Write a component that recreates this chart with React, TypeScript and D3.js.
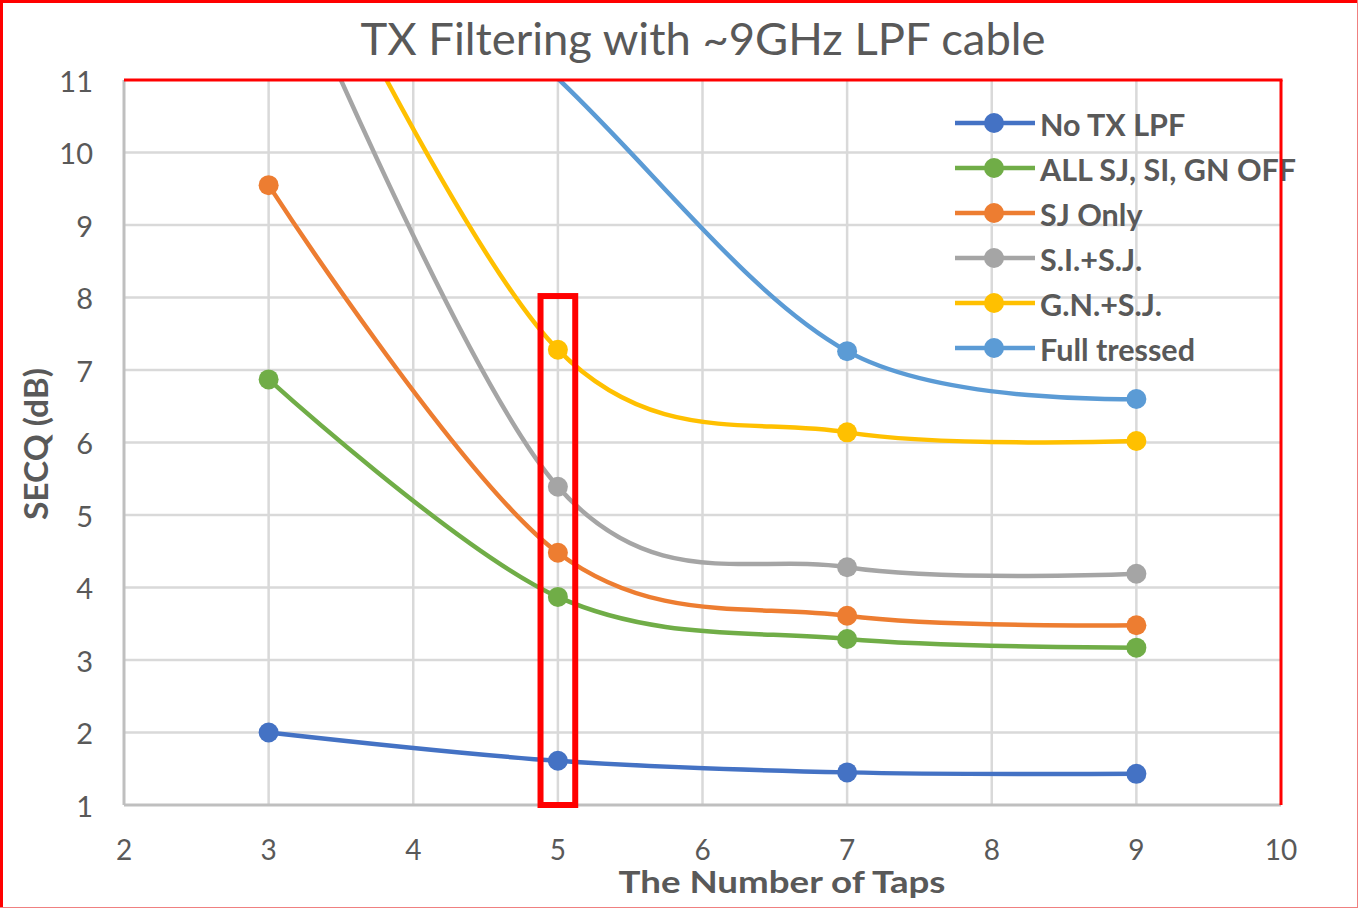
import React from 'react';
import * as d3 from 'd3';

const taps = [3, 5, 7, 9];
const seriesNames = ['No TX LPF', 'ALL SJ, SI, GN OFF', 'SJ Only', 'S.I.+S.J.', 'G.N.+S.J.', 'Full tressed'];
const noTxLpf = [2.0, 1.61, 1.45, 1.43];
const allOff = [6.87, 3.87, 3.29, 3.17];
const sjOnly = [9.55, 4.48, 3.61, 3.48];
const siSj = [13.3, 5.39, 4.28, 4.19];
const gnSj = [14.2, 7.28, 6.14, 6.02];
const fullTressed = [14.8, 11.02, 7.26, 6.6];
const seriesColors = ['#4472C4', '#70AD47', '#ED7D31', '#A5A5A5', '#FFC000', '#5B9BD5'];
const xTicks = [2, 3, 4, 5, 6, 7, 8, 9, 10];
const yTicks = [1, 2, 3, 4, 5, 6, 7, 8, 9, 10, 11];
const highlightX = [4.88, 5.12];
const highlightY = [1, 8.02];

const allSeries = [noTxLpf, allOff, sjOnly, siSj, gnSj, fullTressed];

const W = 1358;
const H = 908;
const L = 124, R = 1281, T = 80, B = 805;
const FONT = 'Lato, "Open Sans", sans-serif';
const TXT = '#595959';

export default function App() {
  const x = d3.scaleLinear().domain([2, 10]).range([L, R]);
  const y = d3.scaleLinear().domain([1, 11]).range([B, T]);
  const line = d3
    .line<[number, number]>()
    .x((d) => x(d[0]))
    .y((d) => y(d[1]))
    .curve(d3.curveCatmullRom.alpha(0));

  return (
    <svg width={W} height={H} style={{ position: 'absolute', left: 0, top: 0, background: '#fff' }}>
      <defs>
        <clipPath id="plotClip">
          <rect x={L} y={T} width={R - L} height={B - T} />
        </clipPath>
      </defs>
      <rect x={0} y={0} width={W} height={H} fill="#fff" />
      {/* gridlines */}
      {yTicks.filter((t) => t > 1 && t < 11).map((t) => (
        <line key={'gy' + t} x1={L} x2={R} y1={y(t)} y2={y(t)} stroke="#d9d9d9" strokeWidth={2.5} />
      ))}
      {xTicks.filter((t) => t > 2 && t < 10).map((t) => (
        <line key={'gx' + t} x1={x(t)} x2={x(t)} y1={T} y2={B} stroke="#d9d9d9" strokeWidth={2.5} />
      ))}
      {/* axes */}
      <line x1={L} x2={L} y1={T} y2={B} stroke="#bfbfbf" strokeWidth={3} />
      <line x1={L} x2={R} y1={B} y2={B} stroke="#bfbfbf" strokeWidth={3} />
      {/* tick labels */}
      {yTicks.map((t) => (
        <text key={'ty' + t} x={93} y={y(t)} textAnchor="end" dominantBaseline="central" fontFamily={FONT} fontSize={29} fill={TXT}>
          {t}
        </text>
      ))}
      {xTicks.map((t) => (
        <text key={'tx' + t} x={x(t)} y={860} textAnchor="middle" fontFamily={FONT} fontSize={28} fill={TXT}>
          {t}
        </text>
      ))}
      {/* series */}
      <g clipPath="url(#plotClip)">
        {allSeries.map((vals, i) => (
          <path
            key={'s' + i}
            d={line(taps.map((t, j) => [t, vals[j]] as [number, number])) || ''}
            fill="none"
            stroke={seriesColors[i]}
            strokeWidth={4.5}
            strokeLinejoin="round"
          />
        ))}
      </g>
      {allSeries.map((vals, i) => (
        <g key={'m' + i}>
          {taps.map((t, j) =>
            vals[j] <= 11 ? <circle key={j} cx={x(t)} cy={y(vals[j])} r={10} fill={seriesColors[i]} /> : null
          )}
        </g>
      ))}
      {/* highlight box */}
      <rect
        x={x(highlightX[0])}
        y={y(highlightY[1])}
        width={x(highlightX[1]) - x(highlightX[0])}
        height={y(highlightY[0]) - y(highlightY[1])}
        fill="none"
        stroke="#ff0000"
        strokeWidth={6}
      />
      {/* legend */}
      {seriesNames.map((n, i) => {
        const cy = 123 + i * 45;
        return (
          <g key={'l' + i}>
            <line x1={955} x2={1035} y1={cy} y2={cy} stroke={seriesColors[i]} strokeWidth={4.5} />
            <circle cx={994} cy={cy} r={10} fill={seriesColors[i]} />
            <text x={1040} y={cy + 1} dominantBaseline="central" fontFamily={FONT} fontWeight="bold" fontSize={30.5} fill={TXT}>
              {n}
            </text>
          </g>
        );
      })}
      {/* plot red border top/right */}
      <line x1={L} x2={R + 1.5} y1={T} y2={T} stroke="#ff0000" strokeWidth={3} />
      <line x1={R} x2={R} y1={T} y2={B} stroke="#ff0000" strokeWidth={3} />
      {/* titles */}
      <text x={703} y={38} textAnchor="middle" dominantBaseline="central" fontFamily={FONT} fontSize={44} textLength={685} lengthAdjust="spacingAndGlyphs" fill={TXT}>
        TX Filtering with ~9GHz LPF cable
      </text>
      <text x={782} y={893} textAnchor="middle" fontFamily={FONT} fontWeight="bold" fontSize={30} textLength={327} lengthAdjust="spacingAndGlyphs" fill={TXT}>
        The Number of Taps
      </text>
      <text
        transform={`translate(35,444) rotate(-90)`}
        textAnchor="middle"
        dominantBaseline="central"
        fontFamily={FONT}
        fontWeight="bold"
        fontSize={32}
        textLength={152}
        lengthAdjust="spacingAndGlyphs"
        fill={TXT}
      >
        SECQ (dB)
      </text>
      {/* outer border */}
      <line x1={0} x2={W} y1={1.5} y2={1.5} stroke="#ff0000" strokeWidth={3} />
      <line x1={1.5} x2={1.5} y1={0} y2={H} stroke="#ff0000" strokeWidth={3} />
      <line x1={W - 0.5} x2={W - 0.5} y1={0} y2={H} stroke="#f08080" strokeWidth={1} />
      <line x1={0} x2={W} y1={H - 0.5} y2={H - 0.5} stroke="#f08080" strokeWidth={1} />
    </svg>
  );
}
